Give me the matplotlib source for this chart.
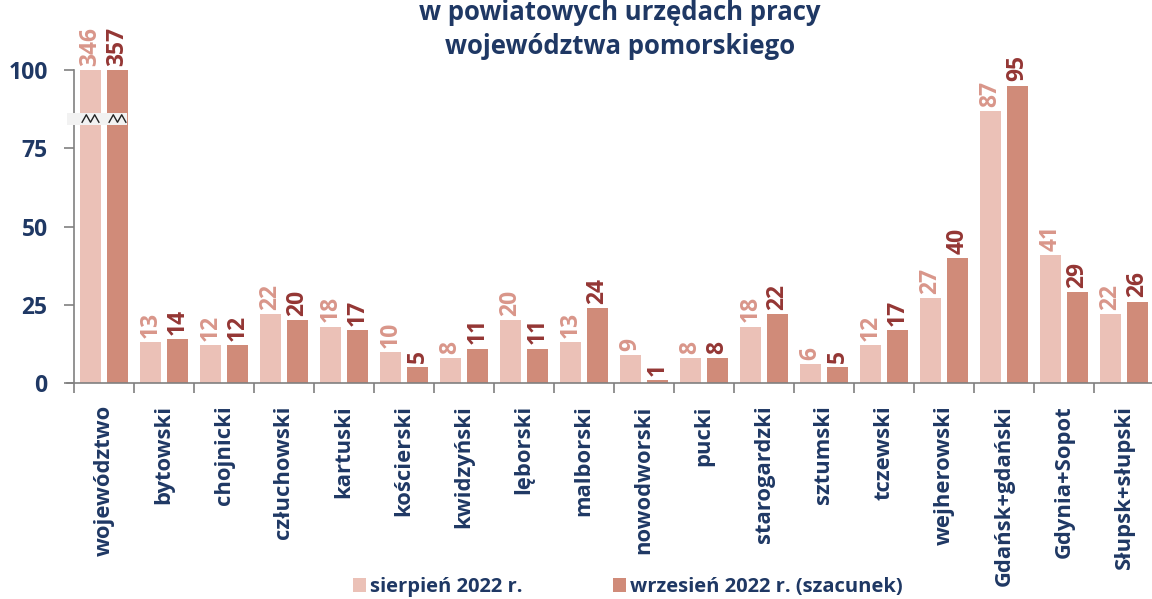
import matplotlib.pyplot as plt
from matplotlib.patches import Rectangle
from matplotlib.ticker import FixedLocator

plt.rcParams['font.family'] = ['Open Sans', 'DejaVu Sans']
plt.rcParams['font.weight'] = 'bold'

powiaty = ['województwo', 'bytowski', 'chojnicki', 'człuchowski', 'kartuski',
           'kościerski', 'kwidzyński', 'lęborski', 'malborski', 'nowodworski',
           'pucki', 'starogardzki', 'sztumski', 'tczewski', 'wejherowski',
           'Gdańsk+gdański', 'Gdynia+Sopot', 'Słupsk+słupski']
sierpien = [346, 13, 12, 22, 18, 10, 8, 20, 13, 9, 8, 18, 6, 12, 27, 87, 41, 22]
wrzesien = [357, 14, 12, 20, 17, 5, 11, 11, 24, 1, 8, 22, 5, 17, 40, 95, 29, 26]

NAVY = '#1f3864'
C_LIGHT = '#ebc1b7'
C_DARK = '#d08b79'
T_LIGHT = '#d9968a'
T_DARK = '#943634'
YMAX = 100

fig = plt.figure(figsize=(11.52, 5.99), dpi=100)
ax = fig.add_axes([74/1152, (599-383)/599, 1080/1152, 313/599])

x = list(range(len(powiaty)))
w = 0.35
off = 0.225
h1 = [min(v, YMAX) for v in sierpien]
h2 = [min(v, YMAX) for v in wrzesien]
ax.bar([i - off for i in x], h1, width=w, color=C_LIGHT, label='sierpień 2022 r.')
ax.bar([i + off for i in x], h2, width=w, color=C_DARK, label='wrzesień 2022 r. (szacunek)')

for i in x:
    ax.annotate(str(sierpien[i]), (i - off, h1[i]), xytext=(0, 3), textcoords='offset points',
                rotation=90, ha='center', va='bottom', color=T_LIGHT, fontsize=16.5,
                fontweight='bold', annotation_clip=False)
    ax.annotate(str(wrzesien[i]), (i + off, h2[i]), xytext=(0, 3), textcoords='offset points',
                rotation=90, ha='center', va='bottom', color=T_DARK, fontsize=16.5,
                fontweight='bold', annotation_clip=False)

# przerwa w słupkach województwa
ax.add_patch(Rectangle((-0.62, 82.4), 1.0, 3.9, facecolor='#f2f2f2', edgecolor='none',
                       clip_on=False, zorder=3))
for c in (-off, off):
    zx = [c - 0.14, c - 0.07, c, c + 0.07, c + 0.14]
    zy = [83.3, 85.7, 83.3, 85.7, 83.3]
    ax.plot(zx, zy, color='#222222', lw=1.0, zorder=4, clip_on=False)

ax.set_xlim(-0.5, len(powiaty) - 0.5)
ax.set_ylim(0, YMAX)
ax.set_yticks([0, 25, 50, 75, 100])
ax.set_xticks(x)
ax.set_xticklabels(powiaty, rotation=90, fontsize=15.8, color=NAVY, fontweight='bold')
ax.xaxis.set_minor_locator(FixedLocator([i - 0.5 for i in range(len(powiaty) + 1)]))
ax.tick_params(axis='x', which='major', length=0, pad=16)
ax.tick_params(axis='x', which='minor', length=7, color='#808080', width=1.2)
ax.tick_params(axis='y', length=7, color='#808080', width=1.2, labelsize=16.5,
               labelcolor=NAVY, pad=12)
for lab in ax.get_yticklabels():
    lab.set_fontweight('bold')

for s in ['top', 'right']:
    ax.spines[s].set_visible(False)
for s in ['left', 'bottom']:
    ax.spines[s].set_color('#808080')
    ax.spines[s].set_linewidth(1.2)
ax.spines['bottom'].set_bounds(-0.62, len(powiaty) - 0.5)

fig.text(620/1152, 1 - 12/599, 'w powiatowych urzędach pracy', ha='center', va='center',
         fontsize=18.5, color=NAVY, fontweight='bold')
fig.text(620/1152, 1 - 47/599, 'województwa pomorskiego', ha='center', va='center',
         fontsize=18.5, color=NAVY, fontweight='bold')

fig.legend(loc='lower center', bbox_to_anchor=(628/1152, -0.027), ncol=2, frameon=False,
           handlelength=0.65, handleheight=0.65, handletextpad=0.2, columnspacing=4.5,
           prop={'size': 14.5, 'weight': 'bold'}, labelcolor=NAVY)

fig.savefig('out.png', dpi=100)
